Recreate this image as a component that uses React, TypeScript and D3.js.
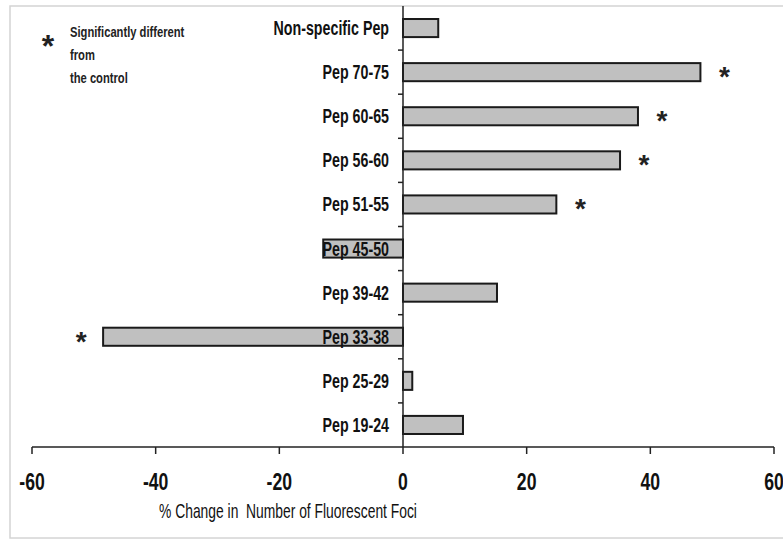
import React from "react";
import * as d3 from "d3";

// categories top to bottom
const peptides = [
  "Non-specific Pep",
  "Pep 70-75",
  "Pep 60-65",
  "Pep 56-60",
  "Pep 51-55",
  "Pep 45-50",
  "Pep 39-42",
  "Pep 33-38",
  "Pep 25-29",
  "Pep 19-24",
];
const pctChange = [5.7, 48.1, 38.0, 35.1, 24.8, -12.9, 15.2, -48.5, 1.5, 9.7];
const significant = [false, true, true, true, true, false, false, true, false, false];
const xTicks = [-60, -40, -20, 0, 20, 40, 60];
const xTitle = "% Change in  Number of Fluorescent Foci";
const legendLines = ["Significantly different", "from", "the control"];

const W = 783;
const H = 540;
const FONT = "'Liberation Sans', Arial, sans-serif";

// condensed text (the original uses a narrow font)
function Cond({ x, y, sx = 0.75, anchor = "start", size, weight = "bold", fill = "#111", children }: any) {
  return (
    <text
      transform={`translate(${x},${y}) scale(${sx},1)`}
      textAnchor={anchor}
      fontSize={size}
      fontWeight={weight}
      fill={fill}
      style={{ whiteSpace: "pre" }}
    >
      {children}
    </text>
  );
}

export default function App() {
  const x = d3.scaleLinear().domain([-60, 60]).range([32, 774]);
  const y = d3
    .scaleBand<string>()
    .domain(peptides)
    .range([6, 447])
    .paddingInner(0.59)
    .paddingOuter(0.295);
  const axisY = 447;
  const step = y.step();
  const bounds = d3.range(peptides.length + 1).map((i) => 6 + i * step);

  return (
    <svg
      width={W}
      height={H}
      style={{ position: "absolute", left: 0, top: 0, background: "#fff" }}
      fontFamily={FONT}
    >
      {/* chart frame */}
      <rect x={10} y={6} width={W + 10} height={532} fill="none" stroke="#d4d4d4" strokeWidth={1.5} />

      {/* bars */}
      {peptides.map((p, i) => {
        const v = pctChange[i];
        return (
          <rect
            key={p}
            x={x(Math.min(0, v))}
            y={y(p)}
            width={Math.abs(x(v) - x(0))}
            height={y.bandwidth()}
            fill="#c0c0c0"
            stroke="#1a1a1a"
            strokeWidth={2}
          />
        );
      })}

      {/* y axis */}
      <line x1={x(0)} x2={x(0)} y1={6} y2={axisY} stroke="#222" strokeWidth={1.5} />
      {bounds.slice(1, -1).map((b, i) => (
        <line key={i} x1={x(0) - 5} x2={x(0)} y1={b} y2={b} stroke="#222" strokeWidth={1.5} />
      ))}
      {peptides.map((p) => (
        <Cond
          key={p}
          x={x(0) - 14}
          y={(y(p) ?? 0) + y.bandwidth() / 2 + 7}
          anchor="end"
          size={19.5}
          sx={0.73}
        >
          {p}
        </Cond>
      ))}

      {/* significance marks */}
      {peptides.map((p, i) =>
        significant[i] ? (
          <text
            key={p}
            x={x(pctChange[i]) + (pctChange[i] > 0 ? 24 : -22)}
            y={(y(p) ?? 0) + y.bandwidth() / 2 + 14}
            textAnchor="middle"
            fontSize={28}
            fontWeight="bold"
            fill="#222"
          >
            *
          </text>
        ) : null
      )}

      {/* x axis */}
      <line x1={x(-60)} x2={x(60)} y1={axisY} y2={axisY} stroke="#222" strokeWidth={1.5} />
      {xTicks.map((t) => (
        <g key={t}>
          <line x1={x(t)} x2={x(t)} y1={axisY} y2={axisY + 7} stroke="#222" strokeWidth={1.5} />
          <Cond x={x(t)} y={490} anchor="middle" size={23.5} sx={0.75}>
            {t}
          </Cond>
        </g>
      ))}
      <Cond x={288} y={518} anchor="middle" size={21} sx={0.66} weight="normal">
        {xTitle}
      </Cond>

      {/* legend */}
      <text x={48} y={57} textAnchor="middle" fontSize={32} fontWeight="bold" fill="#222">
        *
      </text>
      {legendLines.map((l, i) => (
        <Cond key={l} x={70} y={37 + i * 23} size={14} sx={0.8} fill="#222">
          {l}
        </Cond>
      ))}
    </svg>
  );
}
